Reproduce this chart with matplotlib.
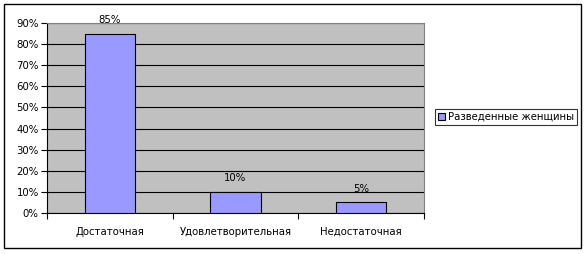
import matplotlib.pyplot as plt
from matplotlib.patches import Rectangle
from matplotlib.ticker import FixedLocator, NullFormatter

categories = ["Достаточная", "Удовлетворительная", "Недостаточная"]
values = [85, 10, 5]
series_name = "Разведенные женщины"
y_ticks = [0, 10, 20, 30, 40, 50, 60, 70, 80, 90]

plt.rcParams['font.family'] = ['DejaVu Sans']
fs = 7.3

fig = plt.figure(figsize=(5.86, 2.54), dpi=100)
fig.patches.append(Rectangle((4 / 586, 6 / 254), 577 / 586, 244 / 254,
                             transform=fig.transFigure, fill=False,
                             edgecolor='black', linewidth=1.0))

ax = fig.add_axes([47 / 586, 41 / 254, 377 / 586, 190 / 254])
ax.set_facecolor('#C0C0C0')

x = range(len(categories))
bars = ax.bar(x, values, width=0.4, color='#9999FF', edgecolor='black',
              linewidth=0.8, zorder=3, label=series_name)

for xi, v in zip(x, values):
    ax.text(xi, v + 4, "%d%%" % v, ha='center', va='bottom', fontsize=fs)

ax.set_xlim(-0.5, len(categories) - 0.5)
ax.set_ylim(0, 90)
ax.set_yticks(y_ticks)
ax.set_yticklabels(["%d%%" % t for t in y_ticks], fontsize=fs)
ax.yaxis.grid(True, color='black', linewidth=0.8, zorder=1)
ax.set_axisbelow(True)

ax.set_xticks(list(x))
ax.set_xticklabels(categories, fontsize=fs)
ax.tick_params(axis='x', which='major', length=0, pad=10)
ax.xaxis.set_minor_locator(FixedLocator([-0.5, 0.5, 1.5, 2.5]))
ax.xaxis.set_minor_formatter(NullFormatter())
ax.tick_params(axis='x', which='minor', length=4, direction='out', width=0.8)
ax.tick_params(axis='y', length=4, direction='out', width=0.8, pad=2)

for side in ['top', 'right']:
    ax.spines[side].set_color('#808080')
    ax.spines[side].set_linewidth(0.8)
for side in ['left', 'bottom']:
    ax.spines[side].set_color('black')
    ax.spines[side].set_linewidth(0.8)

leg = fig.legend(handles=[bars], labels=[series_name], loc='center',
                 bbox_to_anchor=(506 / 586, 137 / 254), fontsize=fs,
                 frameon=True, fancybox=False, edgecolor='black',
                 handlelength=0.7, handleheight=0.7, handletextpad=0.3,
                 borderpad=0.3, borderaxespad=0)
leg.get_frame().set_linewidth(0.8)

fig.savefig('out.png', dpi=100)
